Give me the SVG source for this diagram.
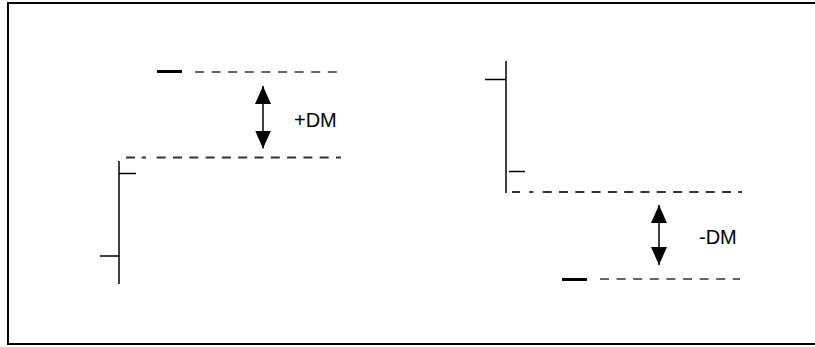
<svg xmlns="http://www.w3.org/2000/svg" width="815" height="347" viewBox="0 0 815 347">
<defs>
<style>
.ln{stroke:#000;stroke-width:1.5;fill:none}
.thick{stroke:#000;stroke-width:3;fill:none}
.dash{stroke:#333;stroke-width:1.6;stroke-dasharray:9 7.6;fill:none}
.dash2{stroke:#333;stroke-width:2;stroke-dasharray:9 7.3;fill:none}
.lbl{font-family:"Liberation Sans",Arial,sans-serif;font-size:20px;fill:#000}
</style>
<marker id="head" viewBox="0 0 18 16" refX="18" refY="8" markerWidth="18" markerHeight="16" markerUnits="userSpaceOnUse" orient="auto-start-reverse">
<path d="M0,0 L18,8 L0,16 Z" fill="#000"/>
</marker>
</defs>
<path d="M815,3 H8 V344 H815" stroke="#000" stroke-width="2" fill="none"/>
<g id="left-bar">
<line class="ln" x1="119" y1="161" x2="119" y2="284"/>
<line class="ln" x1="119" y1="173.5" x2="136" y2="173.5"/>
<line class="ln" x1="100" y1="256" x2="119" y2="256"/>
</g>
<g id="left-top-mark">
<line class="thick" x1="157" y1="71.5" x2="182" y2="71.5"/>
</g>
<g id="right-bar">
<line class="ln" x1="506" y1="61" x2="506" y2="193"/>
<line class="ln" x1="485" y1="79.5" x2="506" y2="79.5"/>
<line class="ln" x1="509" y1="171.5" x2="525" y2="171.5"/>
</g>
<g id="right-bottom-mark">
<line class="thick" x1="562" y1="279.5" x2="587" y2="279.5"/>
</g>
<g id="connectors">
<line class="dash" x1="195" y1="72" x2="340" y2="72"/>
<path class="dash2" d="M126,157.5 H141.7" stroke-dasharray="8 8"/>
<line class="dash2" x1="141.7" y1="157.5" x2="146" y2="157.5" stroke-dasharray="none"/>
<line class="dash2" x1="156.7" y1="157.5" x2="341" y2="157.5"/>
<line class="dash2" x1="512" y1="192" x2="520" y2="192" stroke-dasharray="none"/>
<line class="dash2" x1="529.3" y1="192" x2="533.3" y2="192" stroke-dasharray="none"/>
<line class="dash2" x1="542.7" y1="192" x2="742" y2="192"/>
<line class="dash" x1="600" y1="279" x2="740" y2="279"/>
<line class="ln" x1="263" y1="86" x2="263" y2="148.5" marker-start="url(#head)" marker-end="url(#head)"/>
<line class="ln" x1="659" y1="205" x2="659" y2="265" marker-start="url(#head)" marker-end="url(#head)"/>
</g>
<g id="labels">
<text class="lbl" x="294" y="126.5">+DM</text>
<text class="lbl" x="699" y="243.5">-DM</text>
</g>
</svg>
